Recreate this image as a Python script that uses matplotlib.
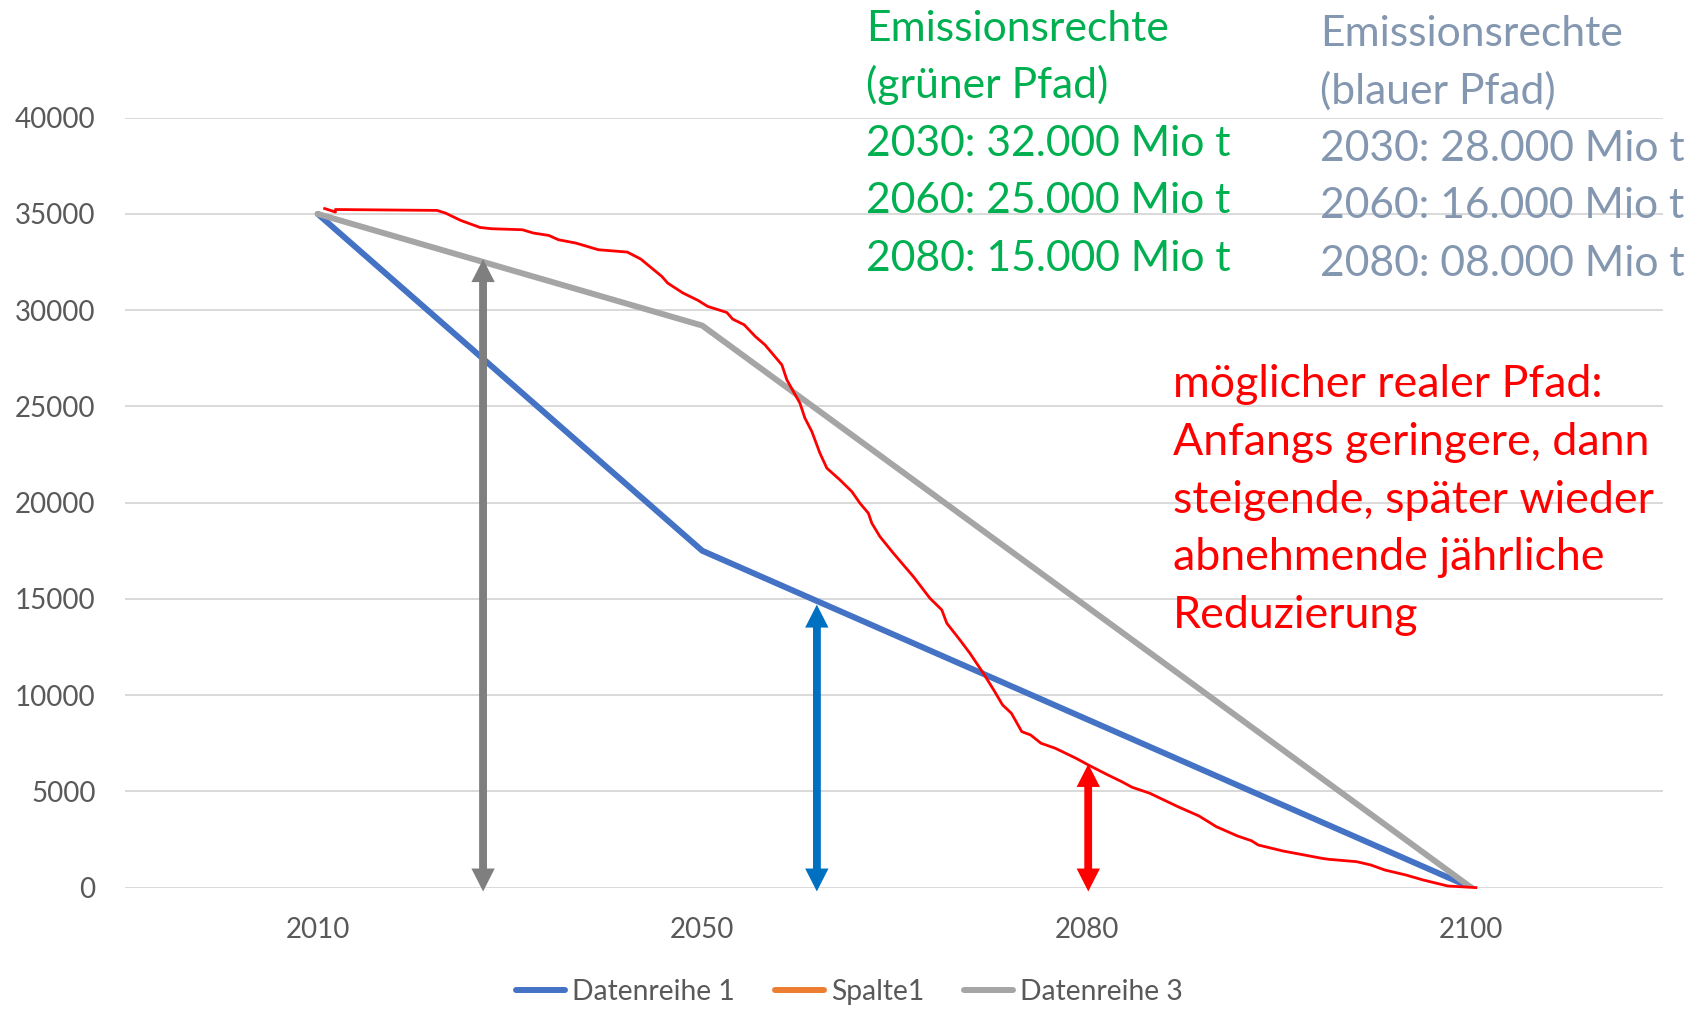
import numpy as np
import matplotlib
matplotlib.use("Agg")
import matplotlib.pyplot as plt

plt.rcParams['font.family'] = ['Lato', 'DejaVu Sans']

W, H = 1699, 1009

# categories and series
years = ['2010', '2050', '2080', '2100']
datenreihe1 = [35000, 17500, 8750, 0]
spalte1 = [np.nan, np.nan, np.nan, np.nan]
datenreihe3 = [35000, 29200, 14600, 0]

# hand drawn "real path" (x in category units)
real_x = [0.018, 0.046, 0.046, 0.31, 0.332, 0.372, 0.422, 0.452, 0.532, 0.561,
          0.601, 0.626, 0.671, 0.730, 0.805, 0.840, 0.895, 0.910, 0.950, 0.989,
          1.014, 1.064, 1.079, 1.109, 1.138, 1.163, 1.207, 1.220, 1.237, 1.254,
          1.267, 1.285, 1.306, 1.324, 1.358, 1.389, 1.410, 1.432, 1.441, 1.462,
          1.497, 1.549, 1.592, 1.623, 1.636, 1.670, 1.696, 1.731, 1.758, 1.781,
          1.804, 1.831, 1.854, 1.881, 1.918, 1.972, 2.004, 2.055, 2.091, 2.118,
          2.164, 2.237, 2.292, 2.337, 2.392, 2.428, 2.446, 2.510, 2.556, 2.611,
          2.629, 2.702, 2.739, 2.775, 2.830, 2.875, 2.939, 3.012]
real_y = [35280, 35100, 35230, 35183, 35047, 34662, 34298, 34231, 34179, 34007,
          33882, 33659, 33487, 33139, 33019, 32656, 31752, 31409, 30890, 30509,
          30197, 29880, 29538, 29242, 28633, 28202, 27162, 26383, 25774, 25173,
          24393, 23695, 22573, 21793, 21185, 20577, 19974, 19454, 18934, 18238,
          17375, 16159, 15037, 14428, 13737, 12869, 12178, 11139, 10270, 9491,
          9059, 8103, 7931, 7500, 7240, 6720, 6372, 5852, 5504, 5213,
          4901, 4205, 3721, 3165, 2682, 2438, 2214, 1902, 1731, 1523,
          1471, 1346, 1175, 915, 655, 395, 83, 0]

# double arrows: x position, top value, bottom value, colour
arrow_x = [0.43, 1.298, 2.004]
arrow_top = [32650, 14700, 6420]
arrow_bottom = -200
arrow_col = ['#7F7F7F', '#0070C0', '#FF0000']

green_lines = ['Emissionsrechte', '(grüner Pfad)', '2030: 32.000 Mio t',
               '2060: 25.000 Mio t', '2080: 15.000 Mio t']
blue_lines = ['Emissionsrechte', '(blauer Pfad)', '2030: 28.000 Mio t',
              '2060: 16.000 Mio t', '2080: 08.000 Mio t']
red_lines = ['möglicher realer Pfad:', 'Anfangs geringere, dann',
             'steigende, später wieder', 'abnehmende jährliche', 'Reduzierung']

fig = plt.figure(figsize=(W / 100, H / 100), dpi=100)
ax = fig.add_axes([125.5 / W, 1 - 887.6 / H, 1538 / W, 769.9 / H])

x = np.arange(len(years))
l1, = ax.plot(x, datenreihe1, color='#4472C4', lw=4.3, solid_capstyle='round', zorder=3)
l2, = ax.plot(x, spalte1, color='#ED7D31', lw=4.3, solid_capstyle='round', zorder=3)
l3, = ax.plot(x, datenreihe3, color='#A5A5A5', lw=4.3, solid_capstyle='round', zorder=3)
ax.plot(real_x, real_y, color='#FF0000', lw=2.0, zorder=4, clip_on=False)

# double arrow = two single arrows pointing opposite ways; each tail starts
# inside the other arrow's head so the tips stay sharp
style = 'simple,head_length=16.5,head_width=16.8,tail_width=5.4'
inset = 900
for xa, top, c in zip(arrow_x, arrow_top, arrow_col):
    for end, start in ((top, arrow_bottom + inset), (arrow_bottom, top - inset)):
        ax.annotate('', xy=(xa, end), xytext=(xa, start), annotation_clip=False,
                    arrowprops=dict(arrowstyle=style, color=c, lw=0,
                                    shrinkA=0, shrinkB=0, mutation_scale=1),
                    zorder=5)

ax.set_xlim(-0.5, 3.5)
ax.set_ylim(0, 40000)
ax.set_xticks(x)
ax.set_xticklabels(years)
ax.set_yticks(np.arange(0, 40001, 5000))
ax.tick_params(axis='both', length=0, labelsize=20, labelcolor='#595959')
ax.tick_params(axis='x', pad=21.4)
ax.tick_params(axis='y', pad=21.5)
ax.yaxis.grid(True, color='#D9D9D9', lw=1.4)
ax.set_axisbelow(True)
for s in ax.spines.values():
    s.set_visible(False)

# annotation texts, one line at a time
base = [40.7, 98.3, 155.7, 212.7, 270.7]
for i, t in enumerate(green_lines):
    fig.text(866 / W, 1 - base[i] / H, t, color='#00B050', fontsize=30.7, va='baseline')
for i, t in enumerate(blue_lines):
    fig.text(1320 / W, 1 - (base[i] + 5.5) / H, t, color='#8497B0', fontsize=30.7, va='baseline')
red_base = [397.3, 455, 512.7, 570, 628.3]
for i, t in enumerate(red_lines):
    fig.text(1173 / W, 1 - red_base[i] / H, t, color='#FF0000', fontsize=32.2, va='baseline')

fig.legend([l1, l2, l3], ['Datenreihe 1', 'Spalte1', 'Datenreihe 3'],
           loc='center', bbox_to_anchor=(0.5, 17 / H), ncol=3, frameon=False,
           fontsize=20.3, handlelength=1.75, handletextpad=0.25, columnspacing=1.4,
           labelcolor='#595959')

fig.savefig('out.png', dpi=100)
